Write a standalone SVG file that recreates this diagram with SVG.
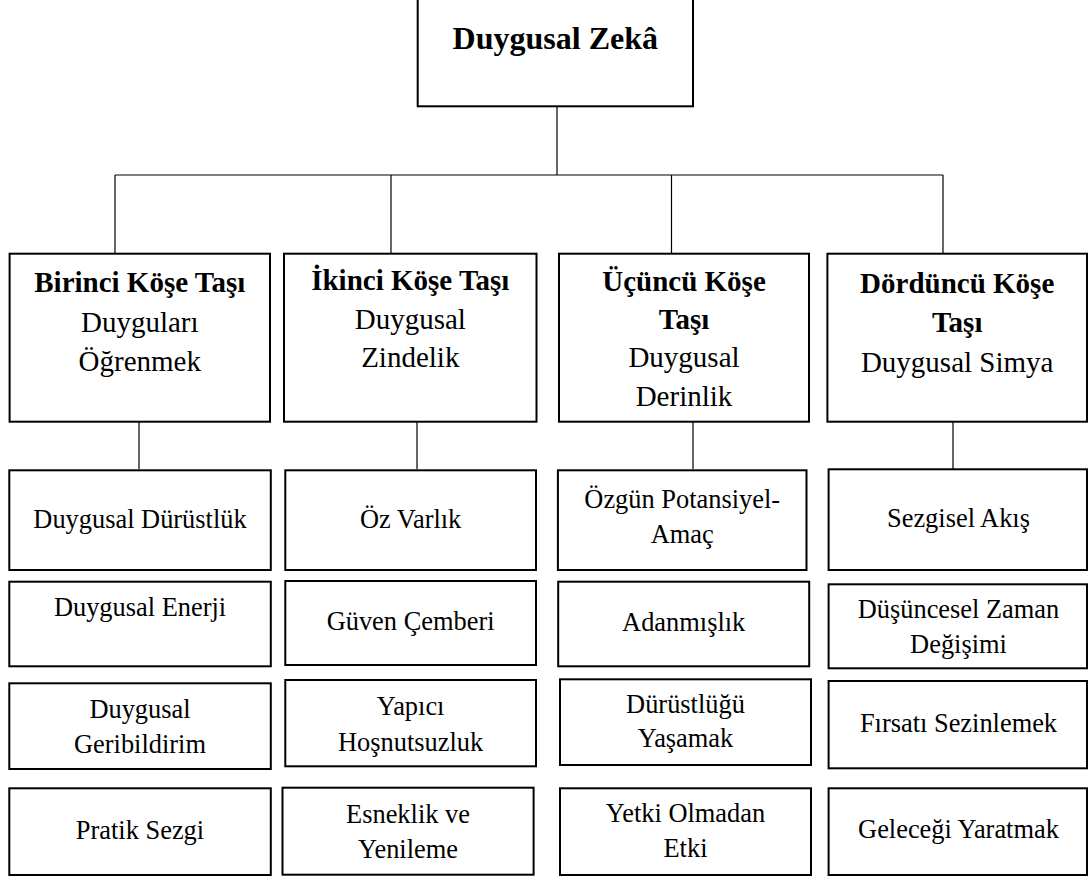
<svg xmlns="http://www.w3.org/2000/svg" width="1089" height="879" viewBox="0 0 1089 879">
<style>
.box{fill:#fff;stroke:#000;stroke-width:2}
.conn{stroke:#000;stroke-width:1.2;fill:none}
text{font-family:'Liberation Serif',Tinos,'Times New Roman',Times,'Nimbus Roman','DejaVu Serif',serif;fill:#000;text-anchor:middle}
.title{font-size:32px;font-weight:bold}
.hb{font-size:29px;font-weight:bold}
.hr{font-size:29px}
.s{font-size:26.4px}
</style>
<rect width="1089" height="879" fill="#fff"/>
<g id="connectors">
<path class="conn" d="M557,107 V175 M115,175 H943 M115,175 V253 M391,175 V253 M671.5,175 V253 M943,175 V253"/>
<path class="conn" d="M139,422 V469 M417,422 V469 M693,422 V469 M953,422 V469"/>
</g>
<g font-family="Liberation Serif, Tinos, Times New Roman, DejaVu Serif, serif">
<g id="root"><rect class="box" x="417.7" y="-3" width="275.3" height="109.3"/><text class="title" x="555.3" y="49">Duygusal Zekâ</text></g>
<g id="c1"><rect class="box" x="9.6" y="253.7" width="260.4" height="168"/><text class="hb" x="139.8" y="291.7">Birinci Köşe Taşı</text><text class="hr" x="139.8" y="331.7">Duyguları</text><text class="hr" x="139.8" y="370.7">Öğrenmek</text></g>
<g id="c2"><rect class="box" x="284" y="253.7" width="252.5" height="168"/><text class="hb" x="410.3" y="290">İkinci Köşe Taşı</text><text class="hr" x="410.3" y="329.3">Duygusal</text><text class="hr" x="410.3" y="366.7">Zindelik</text></g>
<g id="c3"><rect class="box" x="559" y="253.7" width="250" height="168"/><text class="hb" x="684" y="290.7">Üçüncü Köşe</text><text class="hb" x="684" y="329.3">Taşı</text><text class="hr" x="684" y="367.3">Duygusal</text><text class="hr" x="684" y="406">Derinlik</text></g>
<g id="c4"><rect class="box" x="827.4" y="253.7" width="259.6" height="168"/><text class="hb" x="957.2" y="292.7">Dördüncü Köşe</text><text class="hb" x="957.2" y="331.7">Taşı</text><text class="hr" x="957.2" y="371.7">Duygusal Simya</text></g>

<g id="c1r1"><rect class="box" x="9.3" y="470.3" width="261.5" height="99.7"/><text class="s" x="140" y="528.3">Duygusal Dürüstlük</text></g>
<g id="c1r2"><rect class="box" x="9.3" y="581.7" width="261.5" height="84.6"/><text class="s" x="140" y="616">Duygusal Enerji</text></g>
<g id="c1r3"><rect class="box" x="9.3" y="683.3" width="261.5" height="85.7"/><text class="s" x="140" y="718.3">Duygusal</text><text class="s" x="140" y="752.7">Geribildirim</text></g>
<g id="c1r4"><rect class="box" x="9.3" y="788.3" width="261.5" height="86.7"/><text class="s" x="140" y="839.3">Pratik Sezgi</text></g>

<g id="c2r1"><rect class="box" x="285.3" y="470.3" width="250.7" height="99.7"/><text class="s" x="410.6" y="528.3">Öz Varlık</text></g>
<g id="c2r2"><rect class="box" x="285.3" y="581" width="250.7" height="84"/><text class="s" x="410.6" y="630">Güven Çemberi</text></g>
<g id="c2r3"><rect class="box" x="285.3" y="680" width="250.7" height="86.3"/><text class="s" x="410.6" y="715">Yapıcı</text><text class="s" x="410.6" y="751">Hoşnutsuzluk</text></g>
<g id="c2r4"><rect class="box" x="282.5" y="787.7" width="251.1" height="87"/><text class="s" x="408" y="822.7">Esneklik ve</text><text class="s" x="408" y="858.3">Yenileme</text></g>

<g id="c3r1"><rect class="box" x="557.9" y="470.3" width="248.6" height="99.7"/><text class="s" x="682.2" y="508.3">Özgün Potansiyel-</text><text class="s" x="682.2" y="543.3">Amaç</text></g>
<g id="c3r2"><rect class="box" x="558.2" y="581.7" width="251" height="84.6"/><text class="s" x="683.7" y="630.7">Adanmışlık</text></g>
<g id="c3r3"><rect class="box" x="560" y="679.3" width="251" height="85.7"/><text class="s" x="685.5" y="712.7">Dürüstlüğü</text><text class="s" x="685.5" y="747.3">Yaşamak</text></g>
<g id="c3r4"><rect class="box" x="560" y="788.3" width="251" height="86.7"/><text class="s" x="685.5" y="821.7">Yetki Olmadan</text><text class="s" x="685.5" y="857.3">Etki</text></g>

<g id="c4r1"><rect class="box" x="828.6" y="469.3" width="258.4" height="100.7"/><text class="s" x="958.5" y="526.7">Sezgisel Akış</text></g>
<g id="c4r2"><rect class="box" x="828.6" y="584.3" width="258.4" height="84"/><text class="s" x="958.5" y="618.3">Düşüncesel Zaman</text><text class="s" x="958.5" y="653.3">Değişimi</text></g>
<g id="c4r3"><rect class="box" x="828.6" y="681" width="258.4" height="87.3"/><text class="s" x="958.5" y="731.7">Fırsatı Sezinlemek</text></g>
<g id="c4r4"><rect class="box" x="828.6" y="788.3" width="258.4" height="86.7"/><text class="s" x="958.5" y="838.3">Geleceği Yaratmak</text></g>
</g>
</svg>
